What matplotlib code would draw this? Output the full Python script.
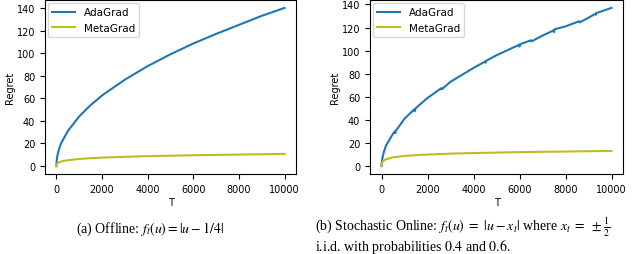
import numpy as np
import matplotlib
matplotlib.use("Agg")
import matplotlib.pyplot as plt

# values
t_off = [0, 10, 50, 100, 200, 500, 1000, 1500, 2000, 3000, 4000, 5000, 6000, 7000, 8000, 9000, 10000]
ada_off = [0, 4.4, 10, 14, 20, 31, 44, 54, 62.5, 76.5, 88.5, 99, 108.5, 117, 125, 133, 140]
meta_off = [0, 1.5, 2.5, 3.2, 4, 5.2, 6.3, 7, 7.5, 8.2, 8.8, 9.2, 9.6, 9.9, 10.2, 10.5, 10.8]

t_sto = [0, 10, 50, 100, 200, 500, 580, 600, 620, 1000, 1420, 1450, 1480, 2000, 2600, 2620, 3000, 4000,
         4500, 4520, 4540, 5000, 5980, 6000, 6020, 6500, 6520, 7000, 7480, 7500, 7520, 8000, 8600, 8620,
         9000, 9300, 9320, 9340, 10000]
ada_sto = [0, 3, 8, 12, 18, 28, 30, 28.5, 30.5, 41, 49, 47.5, 50, 59, 67.5, 66.5, 73, 85,
           90.5, 89.5, 91, 96, 105, 103.5, 105.5, 109, 108, 113, 117.5, 116, 118.5, 121, 125.5, 124.5,
           128.5, 132, 131, 132.5, 137]
t_sto_m = [0, 10, 50, 100, 200, 500, 1000, 1500, 2000, 3000, 4000, 5000, 6000, 7000, 8000, 9000, 10000]
meta_sto = [0, 2, 3.8, 4.8, 6, 7.6, 8.8, 9.5, 10, 10.8, 11.3, 11.7, 12.1, 12.4, 12.6, 12.9, 13.1]

xticks = [0, 2000, 4000, 6000, 8000, 10000]
yticks = [0, 20, 40, 60, 80, 100, 120, 140]

caption_a = r"(a) Offline: $f_t(u) = |u - 1/4|$"
caption_b1 = r"(b) Stochastic Online: $f_t(u)\ =\ |u - x_t|$ where $x_t\ =\ \pm\frac{1}{2}$"
caption_b2 = r"i.i.d. with probabilities $0.4$ and $0.6$."

plt.rcParams['font.size'] = 7
plt.rcParams['mathtext.fontset'] = 'stix'

fig = plt.figure(figsize=(6.4, 2.55), dpi=100)
ax1 = fig.add_axes([45 / 640, 80 / 255, 251 / 640, 174 / 255])
ax2 = fig.add_axes([370 / 640, 80 / 255, 253 / 640, 174 / 255])

for ax, t_a, a, t_m, m in [(ax1, t_off, ada_off, t_off, meta_off),
                           (ax2, t_sto, ada_sto, t_sto_m, meta_sto)]:
    ax.plot(t_a, a, color='#1f77b4', lw=1.5, label='AdaGrad')
    ax.plot(t_m, m, color='#bcbd22', lw=1.5, label='MetaGrad')
    ax.set_xticks(xticks)
    ax.set_yticks(yticks)
    ax.set_xlabel('T', labelpad=2)
    ax.set_ylabel('Regret', labelpad=1)
    ax.legend(loc='upper left', fontsize=7.5, handlelength=2.2, borderaxespad=0.3)

serif = dict(family='Liberation Serif', fontsize=10, va='baseline')
fig.text(150 / 640, 1 - 233 / 255, caption_a, ha='center', **serif)
fig.text(315 / 640, 1 - 231 / 255, caption_b1, ha='left', **serif)
fig.text(315 / 640, 1 - 251 / 255, caption_b2, ha='left', **serif)

fig.savefig('out.png', dpi=100)
